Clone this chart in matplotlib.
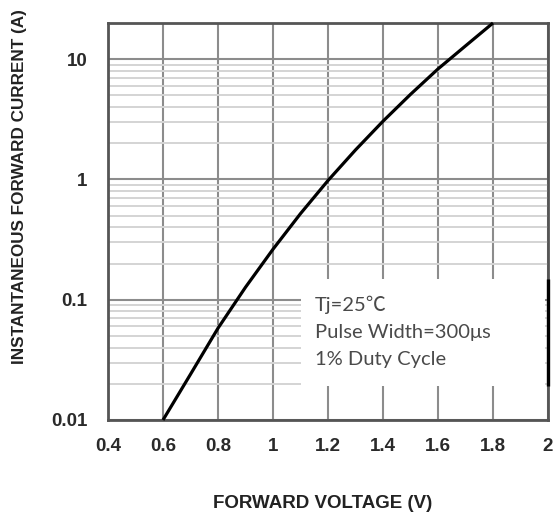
import matplotlib
matplotlib.use("Agg")
import matplotlib.pyplot as plt
from matplotlib.ticker import FixedLocator, NullFormatter

# == DATA =================================================================== #
# forward voltage (V) vs instantaneous forward current (A)
vf = [0.6, 0.7, 0.8, 0.9, 1.0, 1.1, 1.2, 1.3, 1.4, 1.5, 1.6, 1.7, 1.8]
i_f = [0.01, 0.024, 0.058, 0.127, 0.263, 0.52, 0.98, 1.76, 3.05, 5.1, 8.3, 12.9, 20.0]

x_ticks = [0.4, 0.6, 0.8, 1.0, 1.2, 1.4, 1.6, 1.8, 2.0]
x_tick_labels = ['0.4', '0.6', '0.8', '1', '1.2', '1.4', '1.6', '1.8', '2']
y_ticks = [0.01, 0.1, 1, 10]
y_tick_labels = ['0.01', '0.1', '1', '10']
note_lines = ['Tj=25\u2103', 'Pulse Width=300\u03bcs', '1% Duty Cycle']

# == PLOT =================================================================== #
fig = plt.figure(figsize=(5.55, 5.16), dpi=100)
ax = fig.add_axes([108/555, 1-420/516, 440/555, 397/516])

ax.set_yscale('log')
ax.set_xlim(0.4, 2.0)
ax.set_ylim(0.01, 20)

# grid
minor_y = [m * 10.0**e for e in range(-2, 2) for m in range(2, 10)]
ax.yaxis.set_minor_locator(FixedLocator(minor_y))
ax.yaxis.set_minor_formatter(NullFormatter())
ax.set_xticks(x_ticks)
ax.set_xticklabels(x_tick_labels)
ax.set_yticks(y_ticks)
ax.set_yticklabels(y_tick_labels)
ax.grid(which='major', axis='both', color='#8c8c8c', lw=1.5, zorder=1)
ax.grid(which='minor', axis='y', color='#d4d4d4', lw=1.4, zorder=1)
ax.set_axisbelow(True)

ax.tick_params(which='both', length=0)
ax.tick_params(axis='x', pad=13, labelsize=13.5, labelcolor='#2a2a2a')
ax.tick_params(axis='y', pad=15, labelsize=13.5, labelcolor='#2a2a2a')
for lab in ax.get_xticklabels() + ax.get_yticklabels():
    lab.set_fontweight('bold')
    lab.set_family('Liberation Sans')

for s in ['left', 'top', 'bottom', 'right']:
    ax.spines[s].set_color('#555555')
    ax.spines[s].set_linewidth(2.0)
ax.spines['right'].set_zorder(6)

# white patch behind the note, covering the grid
ax.fill_between([1.1, 1.99], [0.019, 0.019], [0.15, 0.15],
                color='white', zorder=2, lw=0)
# right border is darker next to the note
ax.plot([2.0, 2.0], [0.019, 0.15], color='black', lw=2.4, zorder=7,
        clip_on=False, solid_capstyle='butt')

# curve
ax.plot(vf, i_f, color='black', lw=2.3, zorder=3, clip_on=False,
        solid_capstyle='butt')

# note text
for k, txt in enumerate(note_lines):
    fig.text(315/555, 1-(305 + 27.5*k)/516, txt, fontsize=14.5,
             family=['Lato', 'Noto Sans CJK SC', 'DejaVu Sans'],
             color='#4a4a4a', va='center', ha='left')

# axis labels
fig.text(323/555, 1-503/516, 'FORWARD VOLTAGE (V)', fontsize=13.5,
         fontweight='bold', family='Liberation Sans', color='#222222',
         ha='center', va='center')
fig.text(20/555, 1-187/516, 'INSTANTANEOUS FORWARD CURRENT (A)', fontsize=12.3,
         fontweight='bold', family='Liberation Sans', color='#222222',
         ha='center', va='center', rotation=90)

fig.savefig('out.png', dpi=100)
